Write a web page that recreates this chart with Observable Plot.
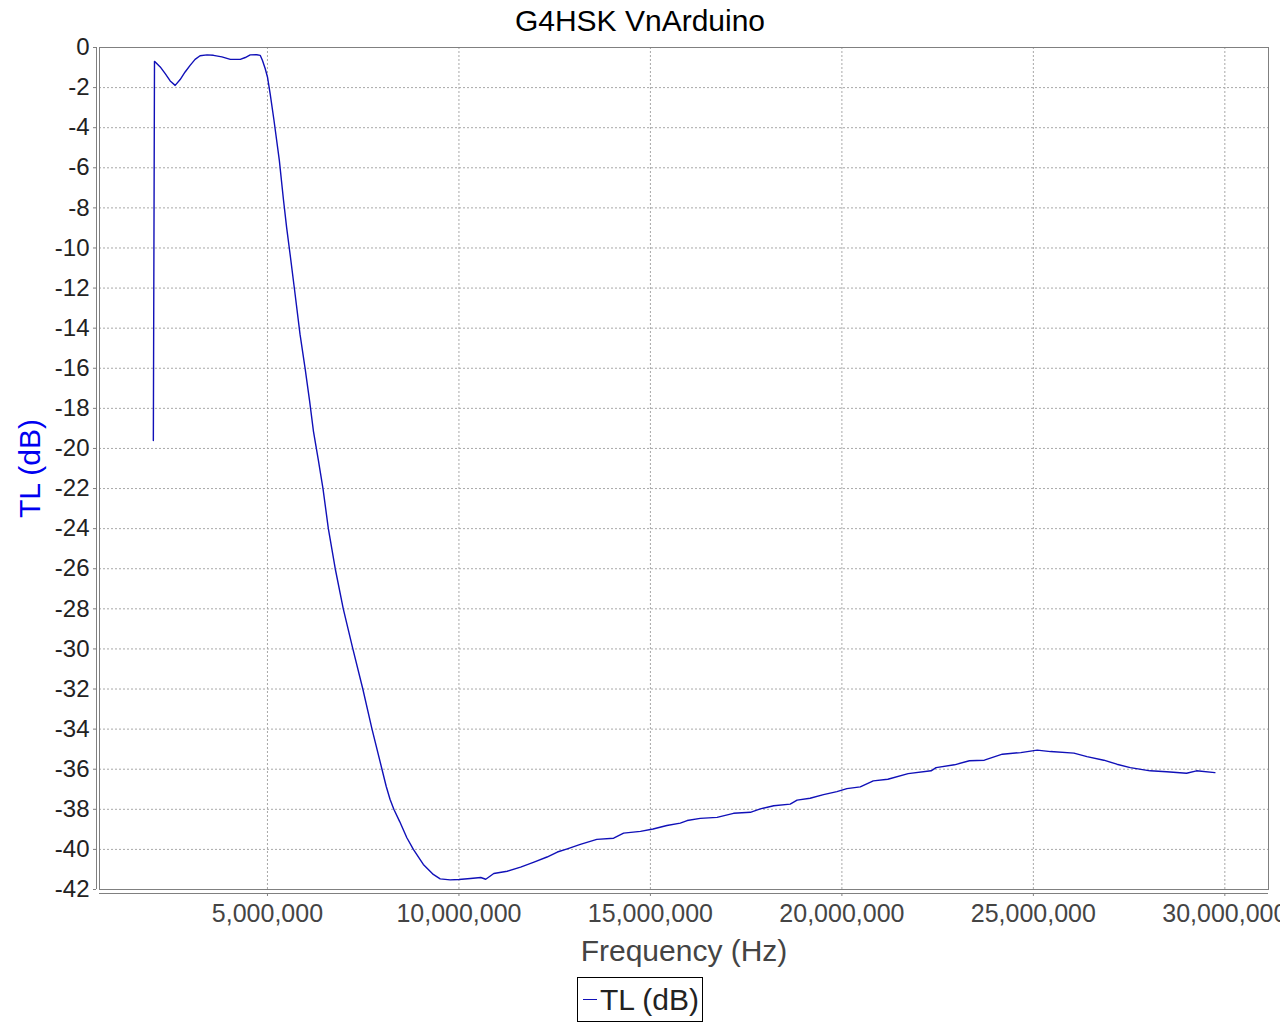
<!DOCTYPE html>
<html>
<head>
<meta charset="utf-8">
<script src="https://cdn.jsdelivr.net/npm/d3@7"></script>
<script src="https://cdn.jsdelivr.net/npm/@observablehq/plot@0.6"></script>
<style>
  body { margin: 0; background: #fff; width: 1280px; font-family: "Liberation Sans", Arial, sans-serif; position: relative; }
  #title { position: absolute; top: 0; left: 0; width: 1280px; height: 40px; line-height: 42px; text-align: center; font-size: 30px; color: #000; }
  #chart { padding-top: 20px; }
  #chart svg { display: block; }
  #legendwrap { text-align: center; margin-top: 5px; }
  #legend { display: inline-flex; align-items: center; border: 1px solid #000; height: 43px; padding: 0 3px 0 5px; font-size: 30px; color: #222; }
  #legend .sw { display: inline-block; width: 14px; height: 1px; background: #1010b8; margin-right: 3px; }
</style>
</head>
<body>
<div id="title">G4HSK VnArduino</div>
<div id="chart"></div>
<div id="legendwrap"><div id="legend"><span class="sw"></span><span>TL (dB)</span></div></div>
<script>
const title = "G4HSK VnArduino";
const xLabel = "Frequency (Hz)";
const yLabel = "TL (dB)";
const xTicks = [5000000, 10000000, 15000000, 20000000, 25000000, 30000000];
const yTicks = d3.range(0, -43, -2);

// Frequency in MHz, transmission loss in dB
const freqMHz = [
  2.02, 2.05, 2.20, 2.33, 2.46, 2.59, 2.72, 2.85, 2.98, 3.11, 3.24, 3.42, 3.59, 3.81, 4.03, 4.29,
  4.42, 4.55, 4.72, 4.81, 4.87, 4.94, 5.00, 5.07, 5.17, 5.31, 5.42, 5.50, 5.59, 5.70, 5.85, 5.98,
  6.10, 6.20, 6.33, 6.45, 6.59, 6.77, 6.98, 7.23, 7.49, 7.73, 7.99, 8.10, 8.20, 8.30, 8.45, 8.64, 8.81, 9.07,
  9.33, 9.51, 9.77, 10.00, 10.30, 10.57, 10.70, 10.91, 11.26, 11.61, 11.96, 12.30, 12.57, 12.83,
  13.17, 13.60, 14.04, 14.30, 14.74, 15.07, 15.43, 15.78, 15.96, 16.30, 16.74, 17.17, 17.61, 17.87,
  18.22, 18.65, 18.83, 19.17, 19.52, 19.87, 20.13, 20.48, 20.82, 21.20, 21.73, 22.33, 22.46, 22.94,
  23.33, 23.72, 24.19, 24.67, 25.10, 25.45, 26.06, 26.40, 26.84, 27.18, 27.53, 28.05, 28.48, 29.00,
  29.26, 29.74
];
const tlDb = [
  -19.6, -0.69, -0.97, -1.30, -1.67, -1.89, -1.60, -1.22, -0.89, -0.59, -0.41, -0.37, -0.39, -0.47, -0.59, -0.59,
  -0.50, -0.37, -0.36, -0.39, -0.65, -1.05, -1.47, -2.30, -3.63, -5.63, -7.63, -8.97, -10.30, -11.97, -14.30, -15.97,
  -17.63, -19.13, -20.60, -22.00, -24.00, -26.00, -28.00, -30.00, -32.00, -34.00, -36.00, -36.85, -37.50, -38.00, -38.60, -39.42, -40.00, -40.75,
  -41.25, -41.47, -41.52, -41.50, -41.45, -41.40, -41.49, -41.20, -41.09, -40.88, -40.63, -40.38, -40.13, -39.97,
  -39.75, -39.50, -39.44, -39.19, -39.10, -38.98, -38.81, -38.69, -38.56, -38.45, -38.40, -38.20, -38.15, -37.98,
  -37.82, -37.74, -37.54, -37.45, -37.27, -37.12, -36.97, -36.88, -36.58, -36.50, -36.22, -36.08, -35.92, -35.78,
  -35.58, -35.55, -35.25, -35.17, -35.05, -35.12, -35.20, -35.37, -35.55, -35.75, -35.92, -36.08, -36.13, -36.20,
  -36.08, -36.17
];

const data = freqMHz.map((f, i) => ({freq: f * 1e6, tl: tlDb[i]}));
const xDomain = [614000, 31140000];

const chart = Plot.plot({
  width: 1280,
  height: 952,
  marginLeft: 99,
  marginRight: 12,
  marginTop: 27,
  marginBottom: 83,
  style: {fontFamily: "'Liberation Sans', Arial, sans-serif", background: "transparent"},
  x: {domain: xDomain},
  y: {domain: [-42, 0]},
  marks: [
    Plot.ruleY(yTicks, {stroke: "#a8a8a8", strokeDasharray: "2,2"}),
    Plot.ruleX(xTicks, {stroke: "#a8a8a8", strokeDasharray: "2,2"}),
    Plot.frame({stroke: "#808080"}),
    Plot.ruleX([xDomain[0]], {dx: -3, stroke: "#808080"}),
    Plot.ruleY([-42], {dy: 4, stroke: "#808080"}),
    Plot.axisY({ticks: yTicks, tickSize: 3, dx: -3, tickPadding: 4, fontSize: 24, label: null, stroke: "#808080", fill: "#222", tickFormat: d => d3.format("d")(d).replace("−", "-")}),
    Plot.axisX({ticks: xTicks, tickSize: 3, dy: 4, tickPadding: 8, fontSize: 25, label: null, stroke: "#808080", fill: "#444", tickFormat: d3.format(",")}),
    Plot.line(data, {x: "freq", y: "tl", stroke: "#1010b8", strokeWidth: 1.4}),
    Plot.text([xLabel], {frameAnchor: "bottom", dy: 50, lineAnchor: "top", textAnchor: "middle", fontSize: 30, fill: "#444", text: d => d}),
    Plot.text([yLabel], {frameAnchor: "left", dx: -81, rotate: -90, lineAnchor: "top", textAnchor: "middle", fontSize: 30, fill: "#0000f0", text: d => d})
  ]
});
document.getElementById("chart").appendChild(chart);
</script>
</body>
</html>
